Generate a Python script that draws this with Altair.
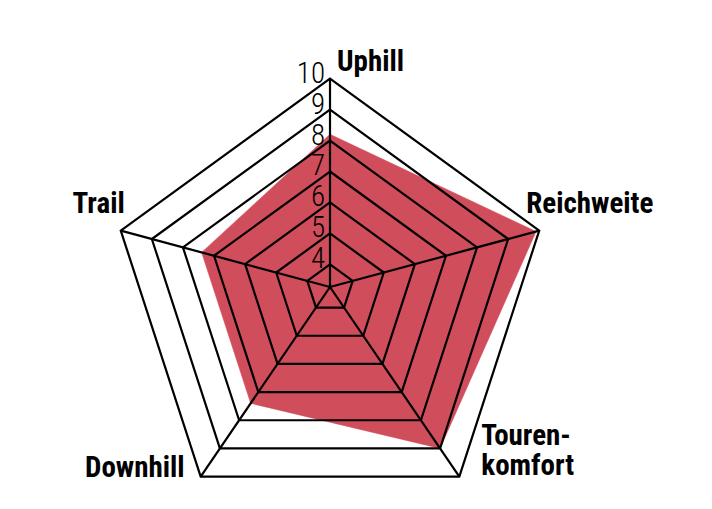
import altair as alt
import pandas as pd

# ---- data ----
categories = ["Uphill", "Reichweite", "Tourenkomfort", "Downhill", "Trail"]
label_text = ["Uphill", "Reichweite", "Touren-\nkomfort", "Downhill", "Trail"]
values = [8.2, 9.9, 9.0, 7.4, 7.4]
ticks = [4, 5, 6, 7, 8, 9, 10]

# ---- layout / style ----
V_MIN = 3.27      # value at the hub
V_MAX = 10
R_OUT = 220       # outer pentagon size (px units)
HUB_OFFSET = 11.6 # outer pentagon centre lies below the hub
W, H = 696, 493
HUB_X, HUB_Y = 322, 279
RED = "#D04D5C"
FONT = "Roboto Condensed"

idx = list(range(len(categories)))
df_vals = pd.DataFrame({"category": categories, "idx": idx, "v": values, "label": label_text})
df_rings = pd.DataFrame([{"tick": t, "idx": i, "v": t} for t in ticks for i in idx])
df_ticks = pd.DataFrame({"tick": ticks, "v": ticks, "idx": [0] * len(ticks)})
df_spokes = pd.DataFrame({"category": categories, "idx": idx, "v": [V_MAX] * len(categories),
                          "label": label_text})

xs = alt.Scale(domain=[-HUB_X, W - HUB_X], nice=False, zero=False)
ys = alt.Scale(domain=[-(H - HUB_Y), HUB_Y], nice=False, zero=False)

def geo(ch):
    return ch.transform_calculate(
        f=f"(datum.v - {V_MIN}) / ({V_MAX} - {V_MIN})",
        ang="datum.idx * 2 * PI / 5",
    ).transform_calculate(
        px=f"datum.f * {R_OUT} * sin(datum.ang)",
        py=f"datum.f * ({R_OUT} * cos(datum.ang) - {HUB_OFFSET})",
    )

X = alt.X("px:Q", scale=xs, axis=None)
Y = alt.Y("py:Q", scale=ys, axis=None)

poly = geo(alt.Chart(df_vals)).mark_line(
    interpolate="linear-closed", fill=RED, stroke=RED, strokeWidth=0.5
).encode(x=X, y=Y, order="idx:Q")

spokes = geo(alt.Chart(df_spokes)).transform_calculate(hx="0", hy="0").mark_rule(
    color="black", strokeWidth=2.2
).encode(x=alt.X("hx:Q", scale=xs, axis=None), y=alt.Y("hy:Q", scale=ys, axis=None),
         x2="px:Q", y2="py:Q")

rings = geo(alt.Chart(df_rings)).mark_line(
    interpolate="linear-closed", color="black", strokeWidth=2.2, strokeJoin="miter"
).encode(x=X, y=Y, detail="tick:N", order="idx:Q")

tick_labels = geo(alt.Chart(df_ticks)).mark_text(
    align="right", baseline="alphabetic", dx=-5, dy=4, fontSize=29,
    font=FONT, fontWeight=300, color="black"
).encode(x=X, y=Y, text="tick:N")

def cat_label(name, **kw):
    return geo(alt.Chart(df_spokes)).transform_filter(
        alt.datum.category == name
    ).mark_text(baseline="alphabetic", fontSize=29, font=FONT,
                fontWeight="bold", color="black", **kw).encode(x=X, y=Y, text="label:N")

labels = [
    cat_label("Uphill", align="left", dx=7, dy=-7.5),
    cat_label("Reichweite", align="left", dx=-13, dy=-17.5),
    cat_label("Tourenkomfort", align="left", dx=22, dy=-31.6, lineBreak="\n", lineHeight=30),
    cat_label("Downhill", align="right", dx=-16, dy=0),
    cat_label("Trail", align="right", dx=4, dy=-17.5),
]

chart = alt.layer(poly, spokes, rings, tick_labels, *labels).properties(
    width=W, height=H, padding=0, autosize=alt.AutoSizeParams(type="none"),
    background="white"
).configure_view(strokeWidth=0)

chart.save("out.html", embed_options={"renderer": "svg", "actions": False})
